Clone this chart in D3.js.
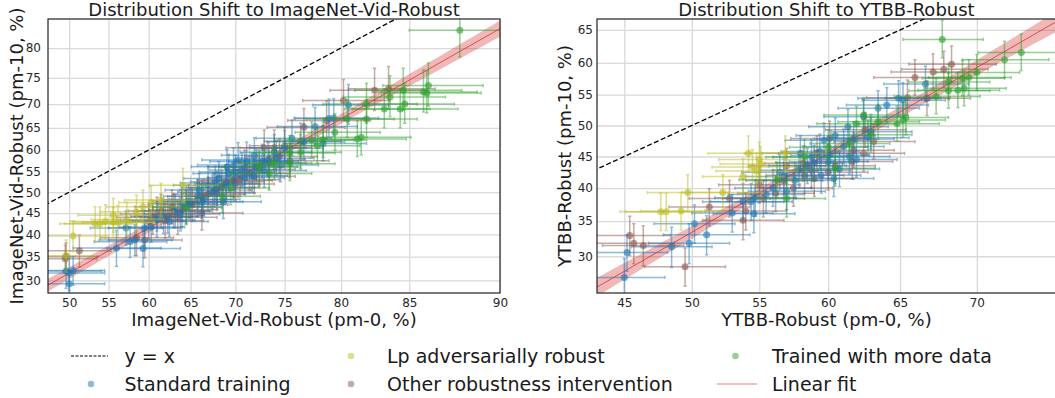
<!DOCTYPE html>
<html>
<head>
<meta charset="utf-8">
<script src="https://cdn.jsdelivr.net/npm/d3@7"></script>
<style>
  body { margin: 0; background: #fff; }
  svg { display: block; font-family: "DejaVu Sans", sans-serif; }
</style>
</head>
<body>
<svg id="chart" width="1055" height="398"></svg>
<script>
// ---- data: [pm-0 %, pm-10 %, x error, y error] ----
// ImageNet-Vid-Robust
var stdVid = [
  [49.6,31.9,4.5,3.5],[50.0,31.5,4.5,3.5],[50.5,32.0,4.0,3.0],[50.0,29.3,4.5,2.5],[56.0,36.9,5.5,4.0],
  [57.7,38.3,4.5,3.5],[58.3,38.7,4.5,3.5],[59.3,36.8,4.5,4.0],[57.2,41.5,4.5,4.0],[59.5,41.5,4.5,4.0],
  [60.3,41.7,4.0,3.5],[61.0,43.4,4.5,4.0],[61.8,44.2,4.0,4.0],[62.5,43.0,4.5,3.5],[63.2,45.5,4.0,4.0],
  [63.8,44.8,4.5,4.0],[64.5,46.5,4.0,4.0],[65.0,47.5,4.0,3.5],[65.8,49.0,4.0,4.0],[66.3,47.7,4.5,4.0],
  [66.5,48.3,4.0,4.0],[67.0,51.7,4.0,4.5],[67.5,50.0,4.0,4.0],[68.0,51.0,4.0,4.0],[68.2,53.3,4.0,4.0],
  [68.7,47.7,4.0,4.0],[69.0,52.0,3.5,4.0],[69.1,56.1,4.0,4.0],[69.3,54.5,4.0,4.5],[70.3,57.7,4.0,4.0],
  [70.7,55.3,3.5,4.0],[71.0,53.5,4.0,4.0],[71.2,57.3,4.0,4.5],[71.8,54.0,3.5,4.0],[72.2,56.1,4.0,4.0],
  [72.8,57.3,3.5,4.0],[73.0,55.2,4.0,4.0],[73.4,57.7,3.5,4.0],[74.2,58.1,3.5,4.0],[74.6,56.5,3.5,4.0],
  [75.0,60.4,3.5,4.0],[75.7,62.7,3.5,4.0],[76.8,61.9,3.5,4.0],[77.8,65.3,3.5,4.0],[78.5,61.5,3.5,4.0],
  [79.0,67.0,3.0,4.0],[79.4,67.1,3.5,4.0],[80.6,69.8,3.0,4.0],[66.0,50.5,4.0,4.0],[70.0,54.8,4.0,4.0],
  [72.0,58.8,3.5,4.0],[74.0,59.5,3.5,4.0],[67.8,52.2,4.0,4.0],[64.0,47.2,4.0,4.0],[69.8,56.5,4.0,4.0]
];
var lpVid = [
  [49.6,35.2,3.5,3.5],[50.5,39.6,4.5,3.5],[53.3,42.5,4.5,4.0],[53.9,42.5,4.5,4.0],[54.6,43.0,4.5,4.0],
  [55.6,44.5,4.5,4.0],[55.6,42.8,5.0,3.5],[56.2,42.8,4.5,4.0],[57.3,43.5,4.5,4.0],[58.5,45.3,4.5,4.0],
  [59.3,46.5,4.5,4.0],[60.3,47.5,4.0,4.0],[61.5,48.1,4.5,4.0],[64.1,51.7,4.0,4.0]
];
var otherVid = [
  [49.6,35.0,4.0,3.0],[49.5,34.5,4.0,3.0],[51.3,36.3,4.0,3.5],[58.5,39.2,4.5,4.0],[59.5,38.7,4.5,4.0],
  [60.5,44.0,4.5,4.0],[61.0,44.8,4.5,4.0],[61.5,45.5,4.0,4.0],[62.0,43.2,4.5,4.0],[62.3,44.3,4.0,4.0],
  [63.0,45.5,4.5,4.0],[63.5,44.0,4.5,4.0],[64.0,45.8,4.0,4.0],[64.8,47.8,4.0,4.0],[65.2,47.0,4.0,4.0],
  [66.3,45.0,4.5,4.0],[66.3,49.0,4.0,4.0],[67.0,49.5,4.0,4.0],[67.7,50.5,4.0,4.0],[68.5,51.2,4.0,4.0],
  [69.0,52.5,4.0,4.0],[69.8,52.8,4.0,4.0],[70.0,52.0,4.0,4.0],[70.5,53.0,4.0,4.0],[71.5,54.6,4.0,4.0],
  [72.0,53.8,4.0,4.0],[72.5,55.5,3.5,4.0],[73.0,60.5,4.0,4.0],[74.0,60.5,3.5,4.0],[74.5,58.5,3.5,4.0],
  [75.0,61.0,3.5,4.0],[75.5,57.5,3.5,4.0],[76.5,62.0,3.5,4.0],[76.8,65.1,3.5,4.0],[78.8,66.6,3.5,4.0],
  [80.2,70.7,3.5,4.0],[82.6,72.7,3.5,4.0],[83.6,73.0,3.0,4.0],[62.8,46.5,4.5,4.0],[65.8,48.2,4.0,4.0],
  [68.0,49.8,4.0,4.0],[71.0,56.0,4.0,4.0],[73.5,57.0,3.5,4.0],[60.0,43.0,4.5,4.0]
];
var moreVid = [
  [64.5,46.3,4.0,4.0],[68.6,49.0,4.0,4.0],[69.5,51.0,4.0,4.0],[72.5,56.0,4.0,4.0],[73.5,54.5,4.0,4.0],
  [74.0,57.0,3.5,4.0],[75.5,56.8,4.0,4.0],[75.5,59.3,4.0,4.0],[76.5,59.5,3.5,4.0],[77.5,62.3,3.5,4.0],
  [78.0,61.0,3.5,4.0],[78.5,62.3,3.5,4.0],[79.5,64.0,3.5,4.0],[80.5,66.9,3.5,4.0],[81.3,62.5,3.5,4.0],
  [81.6,62.9,3.5,4.0],[82.0,66.9,3.5,4.0],[82.0,70.0,3.5,4.0],[83.3,69.0,3.0,4.0],[83.7,71.4,3.5,4.0],
  [84.4,69.0,3.5,4.0],[84.6,72.7,3.5,4.0],[84.7,70.0,3.0,4.0],[85.9,72.4,3.0,4.0],[86.1,72.2,3.0,4.0],
  [86.2,73.6,3.0,4.0],[88.0,82.6,3.0,4.0]
];

// YTBB-Robust
var stdYtbb = [
  [45.0,27.2,3.0,2.5],[45.2,30.5,3.0,2.5],[48.5,31.3,3.0,2.8],[49.8,31.8,3.0,2.8],[50.2,34.6,3.0,2.8],
  [51.1,33.0,3.2,2.8],[53.0,36.2,3.0,2.8],[53.8,37.9,3.0,2.8],[54.4,37.9,3.0,2.8],[54.6,36.1,3.0,2.8],
  [54.7,38.5,3.0,2.8],[55.5,39.0,2.8,2.8],[56.0,40.0,2.8,2.8],[56.5,42.5,2.8,2.8],[57.0,39.5,2.8,2.8],
  [57.6,41.2,2.8,2.8],[57.9,42.8,2.8,2.8],[58.5,43.5,2.8,2.8],[58.8,44.9,2.8,2.8],[59.0,44.0,2.8,2.8],
  [59.4,45.8,2.8,2.8],[59.5,42.0,2.8,2.8],[59.7,47.6,2.8,2.8],[60.1,45.2,2.8,2.8],[60.4,41.5,2.8,2.8],
  [60.5,48.4,2.8,2.8],[60.8,43.0,2.8,2.8],[61.1,46.6,2.8,2.8],[61.4,49.8,2.8,2.8],[61.8,47.8,2.8,2.8],
  [62.0,44.5,2.8,2.8],[62.5,51.4,2.8,2.8],[63.0,49.0,2.8,2.8],[63.5,52.8,2.8,2.8],[64.1,53.3,2.8,2.8],
  [64.9,54.4,2.8,2.8],[65.2,54.1,2.8,2.8],[66.7,56.7,2.8,2.8],[58.0,45.5,2.8,2.8],[60.0,44.2,2.8,2.8],
  [61.5,45.0,2.8,2.8],[62.8,48.0,2.8,2.8],[56.8,41.8,2.8,2.8]
];
var lpYtbb = [
  [47.7,36.4,3.0,2.8],[48.1,36.4,3.0,2.8],[49.2,36.5,3.0,2.8],[49.7,39.3,3.0,2.8],[52.3,39.3,3.0,2.8],
  [53.8,41.8,3.0,2.8],[54.2,45.5,3.0,2.8],[54.5,43.3,3.0,2.8],[54.8,42.7,3.0,2.8],[55.0,44.5,3.0,2.8],
  [55.1,43.8,3.0,2.8],[56.9,45.5,3.0,2.8]
];
var otherYtbb = [
  [45.4,32.9,3.0,2.8],[45.7,31.8,3.0,2.8],[46.4,31.5,3.0,2.8],[49.5,28.6,3.0,2.5],[51.3,37.1,3.0,2.8],
  [52.8,38.4,3.0,2.8],[53.8,35.1,3.0,2.8],[54.0,36.5,3.0,2.8],[55.0,40.5,3.0,2.8],[55.3,38.4,3.0,2.8],
  [56.8,41.2,2.8,2.8],[57.0,43.5,2.8,2.8],[57.5,40.0,2.8,2.8],[58.2,43.9,2.8,2.8],[58.3,42.0,2.8,2.8],
  [59.0,41.5,2.8,2.8],[59.2,45.5,2.8,2.8],[60.1,47.9,2.8,2.8],[60.5,43.5,2.8,2.8],[61.7,44.2,2.8,2.8],
  [61.8,46.0,2.8,2.8],[62.5,45.5,2.8,2.8],[62.6,49.3,2.8,2.8],[63.2,47.4,2.8,2.8],[65.5,54.5,2.8,2.8],
  [66.0,57.7,2.8,2.8],[66.8,54.4,2.8,2.8],[67.2,58.6,2.8,2.8],[67.9,59.0,2.8,2.8],[68.4,59.8,2.8,2.8],
  [58.8,42.8,2.8,2.8],[60.0,42.5,2.8,2.8],[56.2,39.2,2.8,2.8]
];
var moreYtbb = [
  [56.3,41.3,2.8,2.8],[57.0,38.4,2.8,2.8],[58.3,44.9,2.8,2.8],[60.0,46.5,2.8,2.8],[60.5,43.1,2.8,2.8],
  [61.5,47.1,2.8,2.8],[62.0,50.3,2.8,2.8],[62.5,51.7,2.8,2.8],[63.0,48.5,2.8,2.8],[63.5,50.6,2.8,2.8],
  [64.8,50.3,2.8,2.8],[65.2,50.9,2.8,2.8],[65.4,51.3,2.8,2.8],[67.4,54.7,2.8,2.8],[67.8,63.6,2.6,2.8],
  [68.2,57.0,2.6,2.8],[68.2,55.6,2.6,2.8],[68.8,55.7,2.6,2.8],[69.1,57.6,2.6,2.8],[69.2,56.0,2.6,2.8],
  [69.5,57.7,2.6,2.8],[70.0,58.5,2.6,2.8],[71.7,60.5,2.6,2.8],[72.7,61.6,2.6,2.8]
];

// ticks
var vidXTicks = [50, 55, 60, 65, 70, 75, 80, 85, 90];
var vidYTicks = [30, 35, 40, 45, 50, 55, 60, 65, 70, 75, 80];
var ytbbXTicks = [45, 50, 55, 60, 65, 70];
var ytbbYTicks = [30, 35, 40, 45, 50, 55, 60, 65];

// linear fit in logit space: [slope, intercept]
var vidFit = [1.07, -0.778];
var ytbbFit = [1.26, -0.692];

var colors = {std: "#1f77b4", lp: "#bcbd22", other: "#8c564b", more: "#2ca02c", fit: "#d62728"};

var svg = d3.select("#chart");
var lg = function(p) { return Math.log(p / (100 - p)); };
var inv = function(l) { return 100 / (1 + Math.exp(-l)); };

function panel(c) {
    var x = d3.scaleLinear().domain([lg(c.xDom[0]), lg(c.xDom[1])]).range([c.x0, c.x1]);
    var y = d3.scaleLinear().domain([lg(c.yDom[0]), lg(c.yDom[1])]).range([c.y1, c.y0]);
    var g = svg.append("g");

    g.append("clipPath").attr("id", c.id).append("rect")
        .attr("x", c.x0).attr("y", c.y0).attr("width", c.x1 - c.x0).attr("height", c.y1 - c.y0);

    // grid
    g.append("g").attr("transform", "translate(0," + c.y1 + ")")
        .call(d3.axisBottom(x).tickValues(c.xTicks.map(lg)).tickSize(-(c.y1 - c.y0)).tickFormat(""))
        .call(function(s) { s.select(".domain").remove(); s.selectAll("line").attr("stroke", "#d9d9d9").attr("stroke-width", 1.3); });
    g.append("g").attr("transform", "translate(" + c.x0 + ",0)")
        .call(d3.axisLeft(y).tickValues(c.yTicks.map(lg)).tickSize(-(c.x1 - c.x0)).tickFormat(""))
        .call(function(s) { s.select(".domain").remove(); s.selectAll("line").attr("stroke", "#d9d9d9").attr("stroke-width", 1.3); });

    var plot = g.append("g").attr("clip-path", "url(#" + c.id + ")");

    // y = x
    var lo = Math.min(lg(c.xDom[0]), lg(c.yDom[0])), hi = Math.max(lg(c.xDom[1]), lg(c.yDom[1]));
    plot.append("line")
        .attr("x1", x(lo)).attr("y1", y(lo)).attr("x2", x(hi)).attr("y2", y(hi))
        .attr("stroke", "#000").attr("stroke-width", 1.3).attr("stroke-dasharray", "5,2.5");

    // fit band + line
    var xs = d3.range(0, 61).map(function(i) { return x.domain()[0] + (x.domain()[1] - x.domain()[0]) * i / 60; });
    var hw = function(l) { return Math.sqrt(c.band[1] * c.band[1] + Math.pow(c.band[2] * (l - c.band[0]), 2)); };
    var fy = function(l) { return c.fit[0] * l + c.fit[1]; };
    plot.append("path").datum(xs)
        .attr("d", d3.area().x(function(l) { return x(l); })
            .y0(function(l) { return y(fy(l) - hw(l)); })
            .y1(function(l) { return y(fy(l) + hw(l)); }))
        .attr("fill", colors.fit).attr("opacity", 0.33);
    plot.append("path").datum(xs)
        .attr("d", d3.line().x(function(l) { return x(l); }).y(function(l) { return y(fy(l)); }))
        .attr("fill", "none").attr("stroke", colors.fit).attr("stroke-width", 1).attr("opacity", 0.75);

    // error bars and points
    c.groups.forEach(function(gr) {
        var s = plot.append("g").attr("stroke", gr.color).attr("fill", gr.color);
        gr.data.forEach(function(d) {
            var px = x(lg(d[0])), py = y(lg(d[1]));
            var xa = x(lg(d[0] - d[2])), xb = x(lg(d[0] + d[2]));
            var ya = y(lg(d[1] - d[3])), yb = y(lg(d[1] + d[3]));
            var e = s.append("g").attr("opacity", 0.5).attr("stroke-width", 1.5);
            e.append("line").attr("x1", xa).attr("x2", xb).attr("y1", py).attr("y2", py);
            e.append("line").attr("x1", px).attr("x2", px).attr("y1", ya).attr("y2", yb);
            [xa, xb].forEach(function(v) { e.append("line").attr("x1", v).attr("x2", v).attr("y1", py - 1.6).attr("y2", py + 1.6); });
            [ya, yb].forEach(function(v) { e.append("line").attr("y1", v).attr("y2", v).attr("x1", px - 1.6).attr("x2", px + 1.6); });
            s.append("circle").attr("cx", px).attr("cy", py).attr("r", 3.5).attr("stroke", "none").attr("opacity", 0.6);
        });
    });

    // frame
    g.append("rect").attr("x", c.x0).attr("y", c.y0).attr("width", c.x1 - c.x0).attr("height", c.y1 - c.y0)
        .attr("fill", "none").attr("stroke", "#222").attr("stroke-width", 1.2);

    // tick labels
    var fmt = function(l) { return Math.round(inv(l)); };
    g.append("g").attr("transform", "translate(0," + c.y1 + ")")
        .call(d3.axisBottom(x).tickValues(c.xTicks.map(lg)).tickFormat(fmt).tickSize(0).tickPadding(5))
        .call(function(s) { s.select(".domain").remove(); s.selectAll("text").attr("font-size", 12).attr("fill", "#262626").attr("font-family", "DejaVu Sans"); });
    g.append("g").attr("transform", "translate(" + c.x0 + ",0)")
        .call(d3.axisLeft(y).tickValues(c.yTicks.map(lg)).tickFormat(fmt).tickSize(0).tickPadding(c.yPad))
        .call(function(s) { s.select(".domain").remove(); s.selectAll("text").attr("font-size", 12).attr("fill", "#262626").attr("font-family", "DejaVu Sans"); });

    // titles
    var cx = (c.x0 + c.x1) / 2;
    g.append("text").attr("x", cx).attr("y", 16).attr("text-anchor", "middle")
        .attr("font-size", 18).attr("fill", "#1a1a1a").text(c.title);
    g.append("text").attr("x", cx).attr("y", 326).attr("text-anchor", "middle")
        .attr("font-size", 18).attr("fill", "#1a1a1a").text(c.xLabel);
    g.append("text").attr("transform", "translate(" + c.yLabelX + "," + ((c.y0 + c.y1) / 2) + ") rotate(-90)")
        .attr("text-anchor", "middle").attr("font-size", 18).attr("fill", "#1a1a1a").text(c.yLabel);
}

panel({
    id: "clipVid", x0: 48, x1: 500, y0: 19, y1: 293,
    xDom: [47.3, 90], yDom: [27.5, 84.1],
    xTicks: vidXTicks, yTicks: vidYTicks, yPad: 7, yLabelX: 23,
    fit: vidFit, band: [0.85, 0.038, 0.05],
    title: "Distribution Shift to ImageNet-Vid-Robust",
    xLabel: "ImageNet-Vid-Robust (pm-0, %)",
    yLabel: "ImageNet-Vid-Robust (pm-10, %)",
    groups: [
        {data: otherVid, color: colors.other},
        {data: stdVid, color: colors.std},
        {data: lpVid, color: colors.lp},
        {data: moreVid, color: colors.more}
    ]
});

panel({
    id: "clipYtbb", x0: 597, x1: 1056, y0: 19, y1: 293,
    xDom: [43.0, 74.7], yDom: [25.25, 66.6],
    xTicks: ytbbXTicks, yTicks: ytbbYTicks, yPad: 4, yLabelX: 571,
    fit: ytbbFit, band: [0.364, 0.028, 0.082],
    title: "Distribution Shift to YTBB-Robust",
    xLabel: "YTBB-Robust (pm-0, %)",
    yLabel: "YTBB-Robust (pm-10, %)",
    groups: [
        {data: otherYtbb, color: colors.other},
        {data: stdYtbb, color: colors.std},
        {data: lpYtbb, color: colors.lp},
        {data: moreYtbb, color: colors.more}
    ]
});

// legend
var leg = svg.append("g").attr("font-size", 19).attr("fill", "#1a1a1a");
var items = [
    {kind: "dash", sx: 71, y: 356, tx: 124.5, label: "y = x"},
    {kind: "dot", color: colors.std, sx: 91, y: 384, tx: 124.5, label: "Standard training"},
    {kind: "dot", color: colors.lp, sx: 351, y: 356, tx: 387, label: "Lp adversarially robust"},
    {kind: "dot", color: colors.other, sx: 351, y: 384, tx: 387, label: "Other robustness intervention"},
    {kind: "dot", color: colors.more, sx: 735.5, y: 356, tx: 772, label: "Trained with more data"},
    {kind: "line", color: colors.fit, sx: 717, y: 384, tx: 772, label: "Linear fit"}
];
items.forEach(function(it) {
    if (it.kind === "dash") {
        leg.append("line").attr("x1", it.sx).attr("x2", it.sx + 37).attr("y1", it.y).attr("y2", it.y)
            .attr("stroke", "#000").attr("stroke-width", 1).attr("stroke-dasharray", "3,1.5");
    } else if (it.kind === "line") {
        leg.append("line").attr("x1", it.sx).attr("x2", it.sx + 40).attr("y1", it.y).attr("y2", it.y)
            .attr("stroke", it.color).attr("stroke-width", 1.2).attr("opacity", 0.6);
    } else {
        leg.append("circle").attr("cx", it.sx).attr("cy", it.y).attr("r", 3.3).attr("fill", it.color).attr("opacity", 0.5);
    }
    leg.append("text").attr("x", it.tx).attr("y", it.y).attr("dy", "0.35em").text(it.label);
});
</script>
</body>
</html>
